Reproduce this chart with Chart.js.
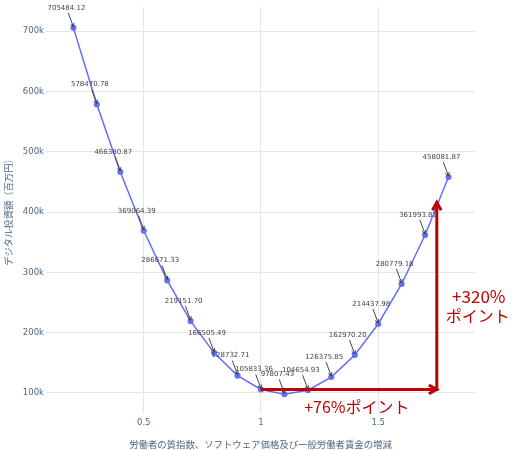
<!DOCTYPE html>
<html>
<head>
<meta charset="utf-8">
<script src="https://cdn.jsdelivr.net/npm/chart.js@4.4.1/dist/chart.umd.min.js"></script>
<style>
  html, body { margin: 0; padding: 0; background: #fff; }
  #wrap { width: 514px; height: 450px; position: relative; }
</style>
</head>
<body>
<div id="wrap"><canvas id="investChart"></canvas></div>
<script>
// 労働者の質指数などの増減（倍率）
const xValues = [0.2, 0.3, 0.4, 0.5, 0.6, 0.7, 0.8, 0.9, 1.0, 1.1, 1.2, 1.3, 1.4, 1.5, 1.6, 1.7, 1.8];
// デジタル投資額（百万円）
const investment = [705484.12, 578470.78, 466380.87, 369064.39, 286671.33, 219151.70, 166505.49,
  128732.71, 105833.36, 97807.43, 104654.93, 126375.85, 162970.20, 214437.98, 280779.18,
  361993.81, 458081.87];
const xTicks = [0.5, 1, 1.5];
const yTicks = [100000, 200000, 300000, 400000, 500000, 600000, 700000];

// 赤い矢印（x=1.0 から 1.75 へ、そこから上へ）
const arrowStartX = 1.0;
const arrowEndX = 1.75;
const arrowBaseY = 105833.36;
const arrowTopY = 416000;
const labelX = '+76%ポイント';
const labelY = ['+320%', 'ポイント'];

const TICK_COLOR = '#506784';
const RED = '#c00000';

function arrowHead(ctx, x1, y1, x2, y2, size) {
  const a = Math.atan2(y2 - y1, x2 - x1);
  ctx.beginPath();
  ctx.moveTo(x2 - size * Math.cos(a - 0.5), y2 - size * Math.sin(a - 0.5));
  ctx.lineTo(x2, y2);
  ctx.lineTo(x2 - size * Math.cos(a + 0.5), y2 - size * Math.sin(a + 0.5));
  ctx.stroke();
}

// 各点の値ラベル（矢印付き）と赤い矢印を描く
const annotationPlugin = {
  id: 'annotations',
  afterDatasetsDraw(chart) {
    const { ctx, scales: { x, y } } = chart;
    ctx.save();

    ctx.font = '7px "DejaVu Sans"';
    ctx.textAlign = 'center';
    ctx.textBaseline = 'middle';
    xValues.forEach((xv, i) => {
      const px = x.getPixelForValue(xv);
      const py = y.getPixelForValue(investment[i]);
      const lx = px - 7, ly = py - 20;
      ctx.strokeStyle = '#444';
      ctx.lineWidth = 1;
      ctx.beginPath();
      ctx.moveTo(lx + 1.8, ly + 5);
      ctx.lineTo(px, py - 1);
      ctx.stroke();
      arrowHead(ctx, lx + 1.8, ly + 5, px, py - 1, 4);
      ctx.fillStyle = '#444';
      ctx.fillText(investment[i].toFixed(2), lx, ly);
    });

    const x0 = x.getPixelForValue(arrowStartX);
    const x1 = x.getPixelForValue(arrowEndX);
    const yb = y.getPixelForValue(arrowBaseY);
    const yt = y.getPixelForValue(arrowTopY);
    ctx.strokeStyle = RED;
    ctx.lineWidth = 3;
    ctx.lineCap = 'butt';
    ctx.beginPath();
    ctx.moveTo(x0, yb);
    ctx.lineTo(x1, yb);
    ctx.stroke();
    arrowHead(ctx, x0, yb, x1, yb, 9);
    ctx.beginPath();
    ctx.moveTo(x1, yb + 1.5);
    ctx.lineTo(x1, yt);
    ctx.stroke();
    arrowHead(ctx, x1, yb, x1, yt, 9);

    ctx.fillStyle = RED;
    ctx.font = '16px "Noto Sans CJK JP"';
    ctx.textAlign = 'center';
    ctx.fillText(labelX, (x0 + x1) / 2 + 8, yb + 17);
    ctx.font = '17px "Noto Sans CJK JP"';
    ctx.fillText(labelY[0], x1 + 42, (yb + yt) / 2 + 1);
    ctx.font = '16px "Noto Sans CJK JP"';
    ctx.fillText(labelY[1], x1 + 41, (yb + yt) / 2 + 20);
    ctx.restore();
  }
};

new Chart(document.getElementById('investChart').getContext('2d'), {
  type: 'scatter',
  data: {
    datasets: [{
      data: xValues.map((xv, i) => ({ x: xv, y: investment[i] })),
      showLine: true,
      borderColor: '#636efa',
      backgroundColor: '#636efa',
      borderWidth: 1.5,
      pointRadius: 2.3,
      pointHoverRadius: 2.3,
      tension: 0
    }]
  },
  options: {
    responsive: true,
    maintainAspectRatio: false,
    animation: false,
    layout: { autoPadding: false, padding: { top: 2, right: 39, left: 3, bottom: 0 } },
    plugins: { legend: { display: false }, tooltip: { enabled: false } },
    scales: {
      x: {
        type: 'linear',
        min: 0.083,
        max: 1.913,
        afterBuildTicks: s => { s.ticks = xTicks.map(v => ({ value: v })); },
        afterFit: s => { s.height = 37; },
        grid: { color: '#e5e5e5', drawTicks: false },
        border: { display: false },
        ticks: {
          color: TICK_COLOR,
          padding: 5,
          font: { family: '"DejaVu Sans"', size: 8.5 },
          callback: v => String(v)
        },
        title: {
          display: true,
          text: '労働者の質指数、ソフトウェア価格及び一般労働者賃金の増減',
          color: TICK_COLOR,
          font: { family: '"Noto Sans CJK JP"', size: 9.4 },
          padding: { top: 4, bottom: 0 }
        }
      },
      y: {
        min: 66800,
        max: 739900,
        afterBuildTicks: s => { s.ticks = yTicks.map(v => ({ value: v })); },
        afterFit: s => { s.width = 43; },
        grid: { color: '#e5e5e5', drawTicks: false },
        border: { display: false },
        ticks: {
          color: TICK_COLOR,
          padding: 2,
          font: { family: '"DejaVu Sans"', size: 8.5 },
          callback: v => (v / 1000) + 'k'
        },
        title: {
          display: true,
          text: 'デジタル投資額（百万円）',
          color: TICK_COLOR,
          font: { family: '"Noto Sans CJK JP"', size: 9.3 },
          padding: { top: 0, bottom: 0 }
        }
      }
    }
  },
  plugins: [annotationPlugin]
});
</script>
</body>
</html>
